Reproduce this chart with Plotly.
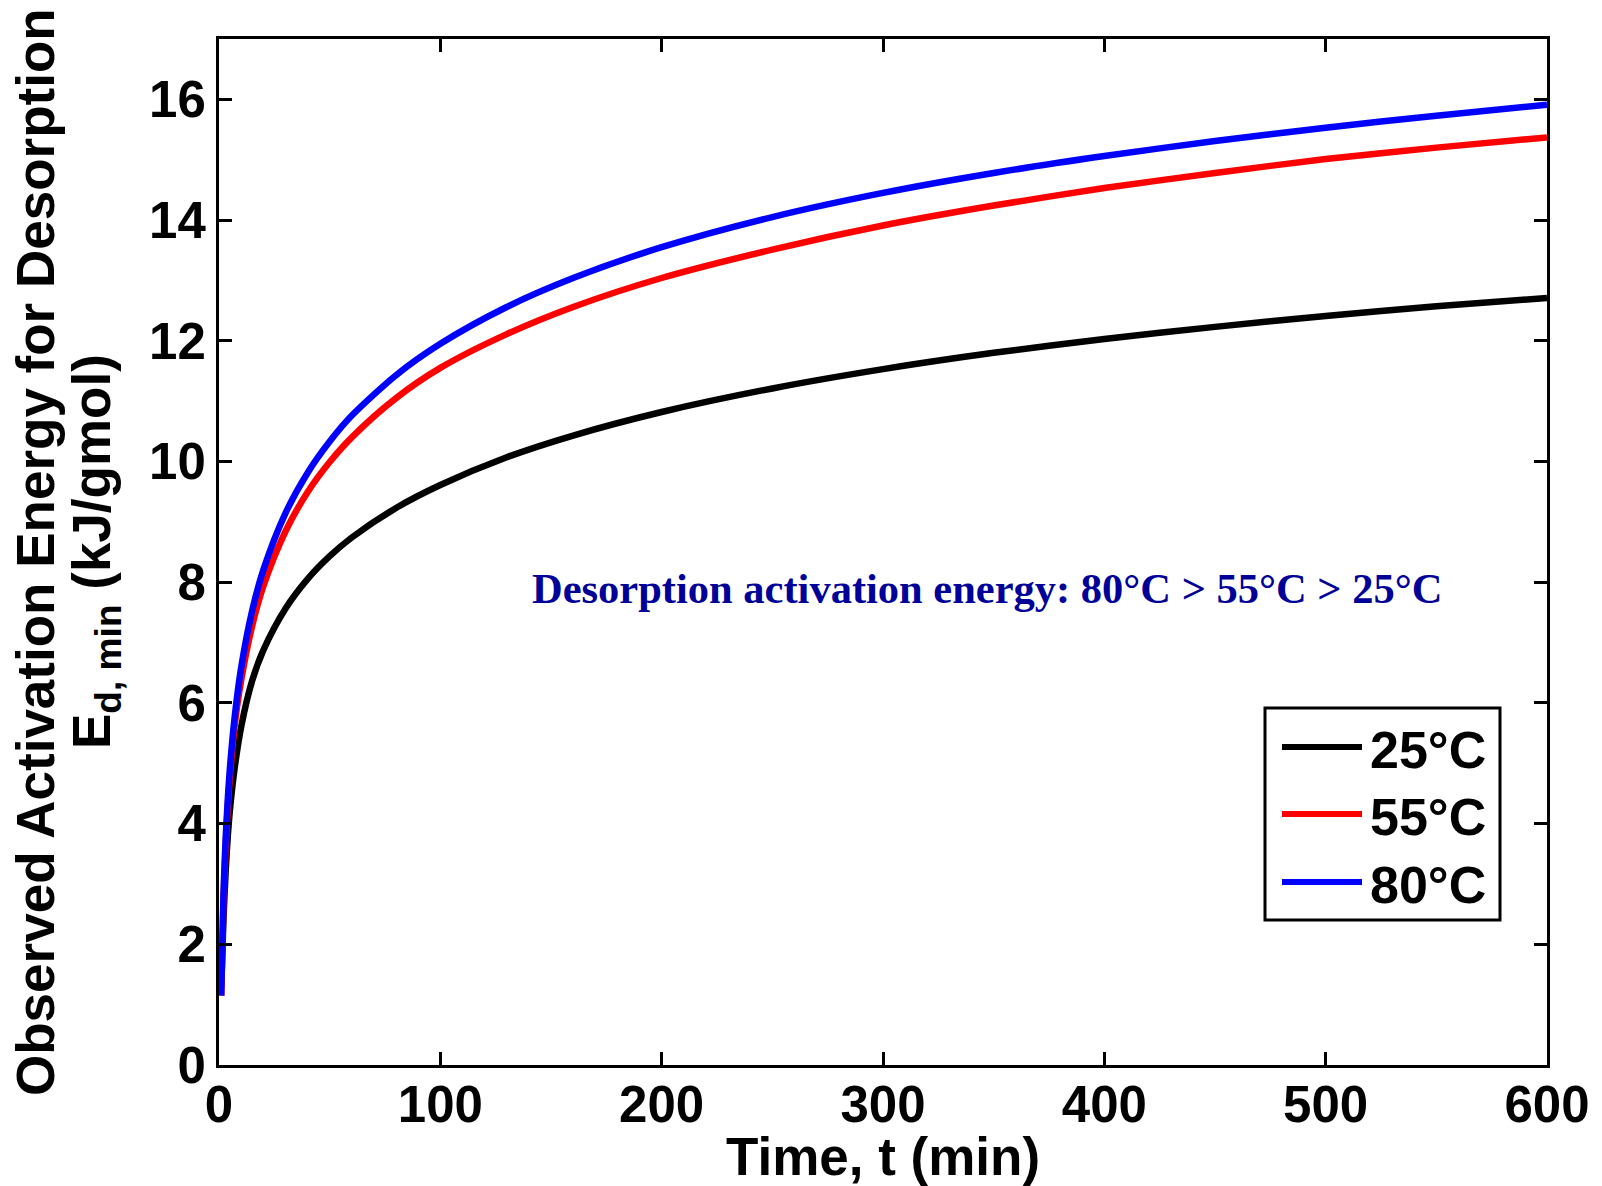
import plotly.graph_objects as go

# Time grid (min) and observed desorption activation energy (kJ/gmol)
time_min = [1, 2, 3, 4, 5, 7, 10, 15, 20, 30, 40, 50, 60, 80, 100, 130, 160,
            200, 250, 300, 350, 400, 450, 500, 550, 600]
e_25c = [1.3, 2.4, 3.2, 3.8, 4.25, 4.9, 5.6, 6.37, 6.87, 7.56, 8.05, 8.43,
         8.74, 9.23, 9.61, 10.07, 10.43, 10.82, 11.21, 11.53, 11.8, 12.03,
         12.23, 12.41, 12.57, 12.71]
e_55c = [1.15, 2.7, 3.6, 4.3, 4.82, 5.6, 6.37, 7.28, 7.93, 8.84, 9.49, 9.99,
         10.4, 11.05, 11.55, 12.11, 12.56, 13.04, 13.51, 13.91, 14.24, 14.53,
         14.78, 15.01, 15.2, 15.37]
e_80c = [1.15, 2.8, 3.75, 4.42, 4.95, 5.74, 6.58, 7.53, 8.2, 9.14, 9.81,
         10.33, 10.76, 11.43, 11.95, 12.56, 13.04, 13.55, 14.05, 14.45, 14.78,
         15.06, 15.31, 15.53, 15.73, 15.91]

series_names = ["25°C", "55°C", "80°C"]
series_values = [e_25c, e_55c, e_80c]
series_colors = ["#000000", "#ff0000", "#0000ff"]

x_ticks = [0, 100, 200, 300, 400, 500, 600]
y_ticks = [0, 2, 4, 6, 8, 10, 12, 14, 16]

SANS = "Liberation Sans"
SERIF = "Liberation Serif"

fig = go.Figure()
for name, vals, col in zip(series_names, series_values, series_colors):
    fig.add_trace(go.Scatter(
        x=time_min, y=vals, name=name, mode="lines",
        line=dict(color=col, width=6.5, shape="spline", smoothing=0.8),
        showlegend=False,
    ))

axis_style = dict(
    ticks="inside", ticklen=13, tickwidth=3, tickcolor="black",
    showline=True, linewidth=3, linecolor="black", mirror="ticks",
    showgrid=False, zeroline=False,
    tickfont=dict(family=SANS, size=51, color="black", weight="bold"),
)

fig.update_xaxes(range=[0, 600], tickvals=x_ticks, ticklabelstandoff=-7,
                 **axis_style)
fig.update_yaxes(range=[0, 17], tickvals=y_ticks, **axis_style)

fig.update_layout(
    width=1602, height=1186,
    margin=dict(l=219, r=55, t=39, b=121),
    plot_bgcolor="white", paper_bgcolor="white",
    showlegend=False,
)

# plot-area geometry in pixels, used to convert legend / title positions
PL, PR, PT, PB = 219, 1547, 39, 1065


def px_x(p):
    return (p - PL) / (PR - PL)


def px_y(p):
    return (PB - p) / (PB - PT)


title_font = dict(family=SANS, size=53, color="black", weight="bold")

# x-axis title
fig.add_annotation(
    text="Time, t (min)", xref="paper", yref="paper",
    x=0.5, y=px_y(1156), xanchor="center", yanchor="middle",
    showarrow=False, font=title_font,
)

# two-line y-axis title
fig.add_annotation(
    text="Observed Activation Energy for Desorption", xref="paper", yref="paper",
    x=px_x(35), y=px_y(552), xanchor="center", yanchor="middle",
    textangle=-90, showarrow=False, font=title_font,
)
fig.add_annotation(
    text="E<sub>d, min</sub> (kJ/gmol)", xref="paper", yref="paper",
    x=px_x(95), y=px_y(552), xanchor="center", yanchor="middle",
    textangle=-90, showarrow=False, font=title_font,
)

# in-plot note
fig.add_annotation(
    text="Desorption activation energy: 80°C > 55°C > 25°C",
    xref="x", yref="y", x=347, y=7.9, xanchor="center", yanchor="middle",
    showarrow=False,
    font=dict(family=SERIF, size=42.5, color="#000099", weight="bold"),
)

# legend box with long sample lines
fig.add_shape(type="rect", xref="paper", yref="paper",
              x0=px_x(1265), x1=px_x(1500), y0=px_y(920), y1=px_y(708),
              line=dict(color="black", width=3), fillcolor="white", layer="above")
row_y = [747, 814, 882]
for name, col, ry in zip(series_names, series_colors, row_y):
    fig.add_shape(type="line", xref="paper", yref="paper",
                  x0=px_x(1282), x1=px_x(1362), y0=px_y(ry), y1=px_y(ry),
                  line=dict(color=col, width=6), layer="above")
    fig.add_annotation(
        text=name, xref="paper", yref="paper",
        x=px_x(1368), y=px_y(ry + 3), xanchor="left", yanchor="middle",
        showarrow=False, font=dict(family=SANS, size=52, color="black", weight="bold"),
    )

fig.write_html("out.html")
